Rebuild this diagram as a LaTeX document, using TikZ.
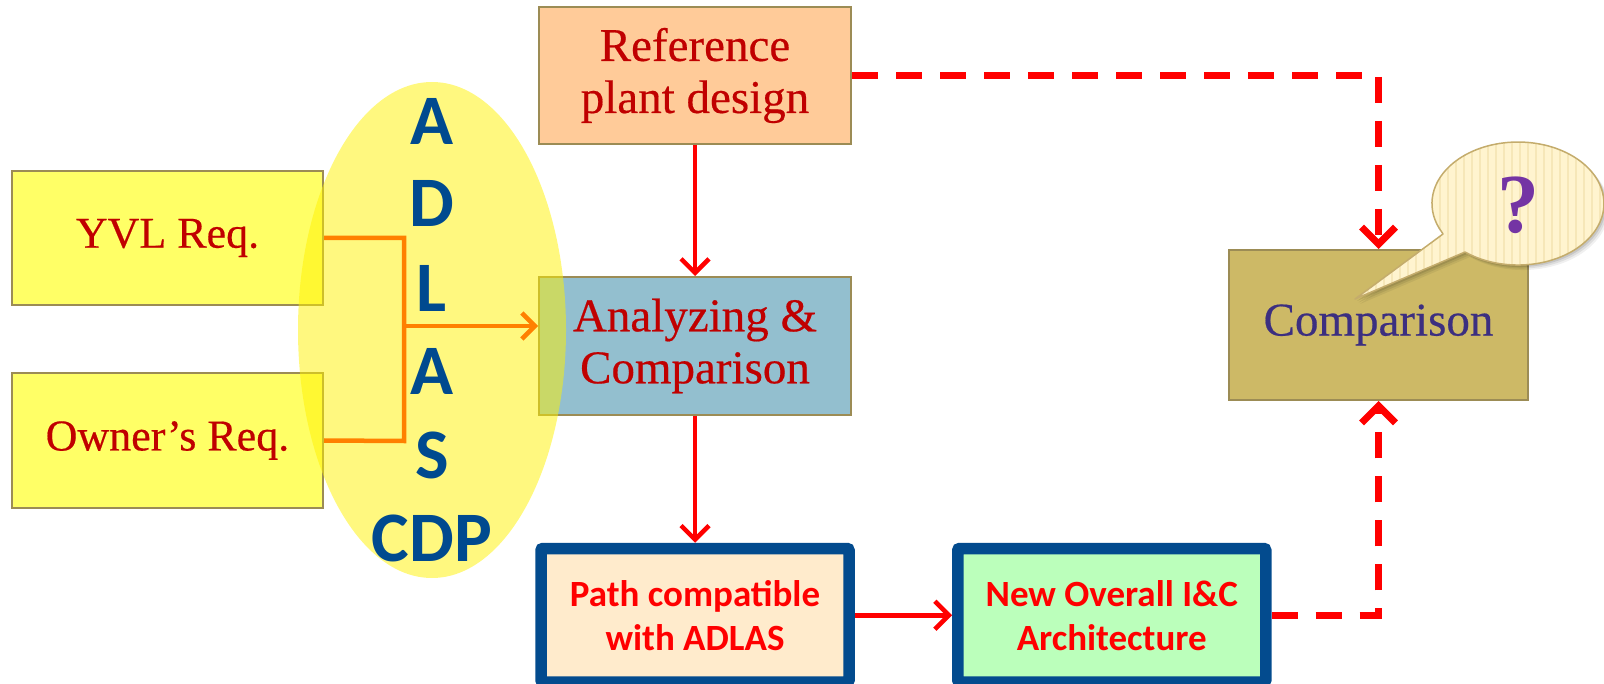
\documentclass[tikz,border=0pt]{standalone}
\usepackage{fontspec}
\setmainfont{Liberation Serif}
\newfontfamily\boxserif{Liberation Serif}[FakeBold=0.4]
\newfontfamily\carlito{Carlito}
\usetikzlibrary{arrows.meta}

\definecolor{boxline}{HTML}{9C8C55}
\definecolor{darkred}{HTML}{C00000}
\definecolor{reqfill}{HTML}{FFFF66}
\definecolor{reffill}{HTML}{FFCB99}
\definecolor{anafill}{HTML}{93BFCF}
\definecolor{cmpfill}{HTML}{CDB966}
\definecolor{cmptext}{HTML}{3C2F80}
\definecolor{navy}{HTML}{034B8E}
\definecolor{pathfill}{HTML}{FFEBCC}
\definecolor{newfill}{HTML}{BBFFBB}
\definecolor{adlasblue}{HTML}{004A8F}
\definecolor{linkorange}{HTML}{FF8000}
\definecolor{bubblefill}{HTML}{FFF4CF}
\definecolor{bubblestripe}{HTML}{F6E7B8}
\definecolor{bubbleline}{HTML}{C4AC6C}
\definecolor{qpurple}{HTML}{7434A4}

\tikzset{
  plainbox/.style={draw=boxline, line width=2pt, inner sep=0pt, align=center,
    text=darkred, font={\boxserif\fontsize{47}{52}\selectfont}},
  reqbox/.style={plainbox, fill=reqfill, minimum width=311pt,
    font={\boxserif\fontsize{44}{52}\selectfont}},
  heavybox/.style={draw=navy, line width=11.5pt, rounded corners=2pt, inner sep=0pt,
    align=center, text=red, font={\carlito\bfseries\fontsize{37}{44}\selectfont},
    minimum width=308pt, minimum height=133.5pt},
  letter/.style={anchor=base, text=adlasblue, inner sep=0pt,
    font={\carlito\bfseries\fontsize{71}{71}\selectfont}},
  redarrow/.style={draw=red, line width=4.5pt,
    -{Straight Barb[length=14pt, width=28pt, line width=4.5pt]}},
  orangeline/.style={draw=linkorange, line width=4.5pt},
  orangearrow/.style={orangeline,
    -{Straight Barb[length=13pt, width=26pt, line width=4.5pt]}},
  dasharrow/.style={draw=red, line width=7.5pt, dash pattern=on 26pt off 18pt,
    -{Straight Barb[length=17pt, width=34pt, line width=7pt]}},
}

\begin{document}
\begin{tikzpicture}[x=1pt, y=-1pt]
\useasboundingbox (0,0) rectangle (1604,684);

% requirement and design boxes
\node[reqbox, minimum height=134pt] (yvl) at (167.5,238) {YVL Req.};
\node[reqbox, minimum height=135pt] (owner) at (167.5,440.5) {Owner’s Req.};
\node[plainbox, fill=reffill, minimum width=312pt, minimum height=137pt]
  (ref) at (695,75.5) {Reference\\plant design};
\node[plainbox, fill=anafill, minimum width=312pt, minimum height=138pt]
  (ana) at (695,346) {Analyzing \&\\Comparison};
\node[plainbox, fill=cmpfill, text=cmptext, minimum width=299pt, minimum height=150pt]
  (cmp) at (1378.5,325) {Comparison};

% outcome boxes
\node[heavybox, fill=pathfill] (path) at (695,615.25) {Path compatible\\with ADLAS};
\node[heavybox, fill=newfill] (new) at (1111.75,615.25) {New Overall I\&C\\Architecture};

% translucent ADLAS / CDP ellipse
\fill[yellow, opacity=0.5] (432,330) ellipse [x radius=134, y radius=248];

% requirement merge
\coordinate (jt) at (404,238);
\coordinate (jb) at (404,441);
\coordinate (jm) at (404,326);
\draw[orangeline] (yvl.east) -- (jt) -- (jb) -- (owner.east);
\draw[orangearrow] (jm) -- (jm -| ana.west);

% letters
\node[letter] (l1) at (432,145) {A};
\node[letter] (l2) at (432,227) {D};
\node[letter] (l3) at (432,311.5) {L};
\node[letter] (l4) at (432,395) {A};
\node[letter] (l5) at (432,478) {S};
\node[letter] (l6) at (432,561.5) {CDP};

% main flow
\draw[redarrow] (ref.south) -- (ana.north);
\draw[redarrow] (ana.south) -- (path.north);
\draw[redarrow] (path.east) -- (new.west);
\draw[dasharrow] (ref.east) -| (cmp.north);
\draw[dasharrow] (new.east) -| (cmp.south);

% speech bubble
\def\bubble{(1443,234) -- (1355,299) -- (1465,252)
  arc[start angle=128, end angle=-208, x radius=86, y radius=61.5] -- cycle}
\foreach \s/\o in {5/0.06, 3.5/0.08, 2/0.1}
  \fill[black, opacity=\o, shift={(\s,\s)}] \bubble;
\fill[bubblefill] \bubble;
\begin{scope}
  \clip \bubble;
  \foreach \x in {1352,1360,...,1610}
    \draw[bubblestripe, line width=2.5pt] (\x,130) -- (\x,310);
\end{scope}
\draw[bubbleline, line width=1.5pt, line join=round] \bubble;
\node[text=qpurple, inner sep=0pt, font={\fontsize{84}{84}\selectfont\bfseries}]
  (q) at (1518,205) {?};
\end{tikzpicture}
\end{document}
